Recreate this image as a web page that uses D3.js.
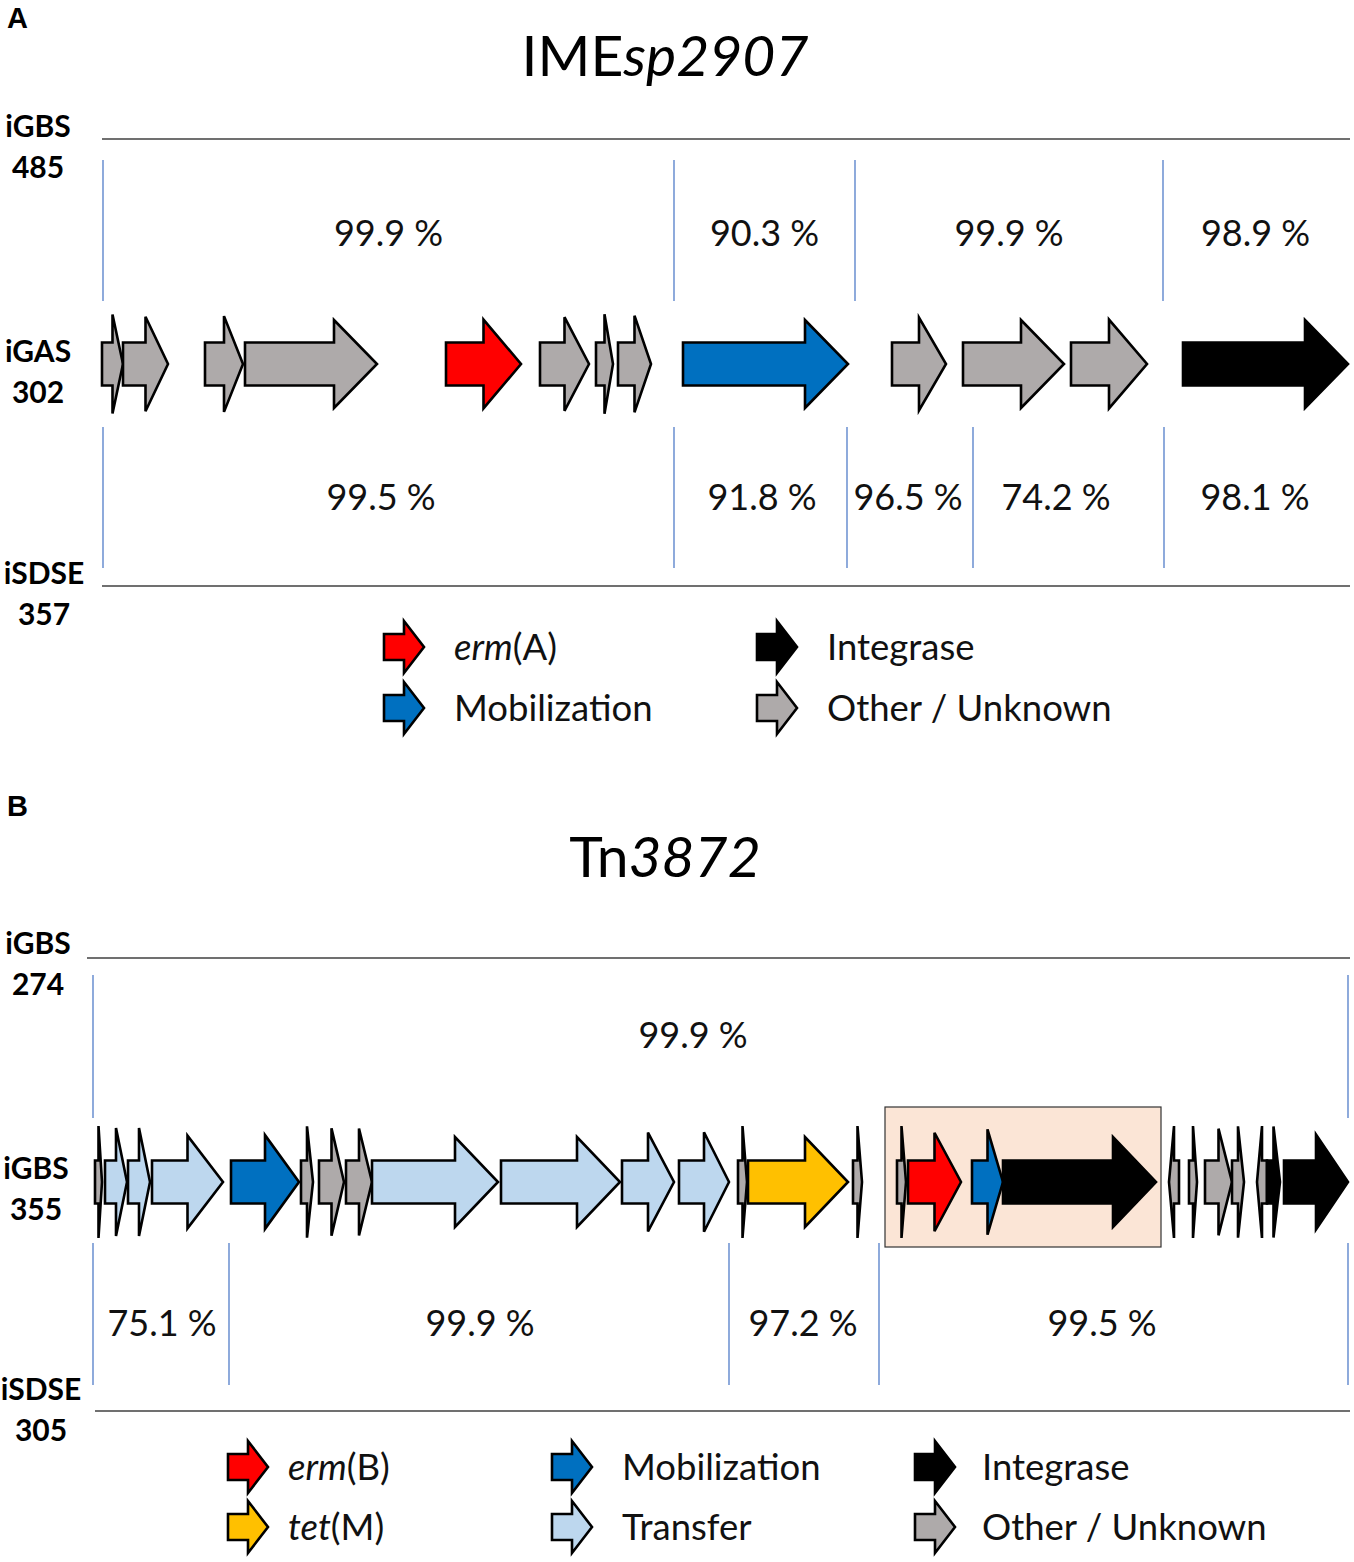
<!DOCTYPE html>
<html>
<head>
<meta charset="utf-8">
<script src="https://cdn.jsdelivr.net/npm/d3@7"></script>
<style>
  body { margin: 0; background: #fff; }
  svg text { font-family: Lato, "Open Sans", sans-serif; }
</style>
</head>
<body>
<svg id="chart" width="1354" height="1562"></svg>
<script>
// gene colours by category
var colors = {
  erm: "#ff0000", tet: "#ffc000", mob: "#0070c0", transfer: "#bdd7ee",
  int: "#000000", other: "#aeaaaa"
};

// panel A : IMEsp2907, positions in bp
var genesA = [
  [0, 210, 1, "other"], [210, 660, 1, "other"], [1030, 1410, 1, "other"],
  [1430, 2750, 1, "other"], [3440, 4190, 1, "erm"], [4380, 4870, 1, "other"],
  [4940, 5110, 1, "other"], [5160, 5490, 1, "other"], [5810, 7460, 1, "mob"],
  [7900, 8440, 1, "other"], [8610, 9620, 1, "other"], [9690, 10450, 1, "other"],
  [10810, 12460, 1, "int"]
];
var upperBoundsA = [10, 5720, 7530, 10610, 12460];
var upperIdentA = [99.9, 90.3, 99.9, 98.9];
var lowerBoundsA = [10, 5720, 7450, 8710, 10620, 12460];
var lowerIdentA = [99.5, 91.8, 96.5, 74.2, 98.1];
var lowerLabelAtA = [2790, 6600, 8060, 9540, 11530];

// panel B : Tn3872
var genesB = [
  [0, 70, 1, "other"], [100, 320, 1, "transfer"], [330, 550, 1, "transfer"],
  [570, 1280, 1, "transfer"], [1360, 2040, 1, "mob"], [2060, 2180, 1, "other"],
  [2240, 2490, 1, "other"], [2510, 2770, 1, "other"], [2770, 4030, 1, "transfer"],
  [4060, 5250, 1, "transfer"], [5270, 5790, 1, "transfer"], [5840, 6340, 1, "transfer"],
  [6430, 6520, 1, "other"], [6530, 7530, 1, "tet"], [7580, 7670, 1, "other"],
  [8020, 8110, 1, "other"], [8130, 8660, 1, "erm"], [8770, 9080, 1, "mob"],
  [9080, 10610, 1, "int"], [10740, 10840, -1, "other"], [10940, 11020, 1, "other"],
  [11100, 11370, 1, "other"], [11370, 11490, 1, "other"], [11620, 11720, -1, "other"],
  [11720, 11850, 1, "int"], [11890, 12530, 1, "int"]
];
var boxB = [7900, 10660];
var upperBoundsB = [-20, 12530];
var upperIdentB = [99.9];
var upperLabelAtB = [5980];
var lowerBoundsB = [-20, 1340, 6340, 7840, 12530];
var lowerIdentB = [75.1, 99.9, 97.2, 99.5];
var lowerLabelAtB = [670, 3850, 7080, 10070];

var legendA = [
  ["erm", "erm", "(A)"], ["int", "", "Integrase"],
  ["mob", "", "Mobilization"], ["other", "", "Other / Unknown"]
];
var legendB = [
  ["erm", "erm", "(B)"], ["mob", "", "Mobilization"], ["int", "", "Integrase"],
  ["tet", "tet", "(M)"], ["transfer", "", "Transfer"], ["other", "", "Other / Unknown"]
];

var svg = d3.select("#chart");

function arrowPath(x0, x1, dir, cy, bh, hh) {
  var len = Math.abs(x1 - x0);
  var head = Math.min(len / 2, 43);
  var p;
  if (dir > 0) {
    var hs = x1 - head;
    p = [[x0, cy - bh], [hs, cy - bh], [hs, cy - hh], [x1, cy], [hs, cy + hh], [hs, cy + bh], [x0, cy + bh]];
  } else {
    var he = x0 + head;
    p = [[x1, cy - bh], [he, cy - bh], [he, cy - hh], [x0, cy], [he, cy + hh], [he, cy + bh], [x1, cy + bh]];
  }
  return "M" + p.join("L") + "Z";
}

function drawPanel(o) {
  var g = svg.append("g");
  var x = d3.scaleLinear().domain(o.domain).range(o.range);
  var hh = d3.scaleLinear().domain(o.hhLen).range(o.hhRange).clamp(true);

  g.append("text").attr("x", 7).attr("y", o.letterY)
    .style("font-family", "'Liberation Sans', Arial, sans-serif").style("font-weight", "bold")
    .style("font-size", "29px").text(o.letter);

  var t = g.append("text").attr("x", 665).attr("y", o.titleY)
    .attr("text-anchor", "middle").style("font-size", "57px");
  t.append("tspan").text(o.title[0]);
  t.append("tspan").style("font-style", "italic").text(o.title[1]);

  // strain labels
  o.strains.forEach(function (s) {
    var lt = g.append("text").attr("text-anchor", "middle")
      .style("font-weight", "bold").style("font-size", "30px");
    lt.append("tspan").attr("x", s[2]).attr("y", s[3]).text(s[0]);
    lt.append("tspan").attr("x", s[2]).attr("y", s[3] + 41).text(s[1]);
  });

  // reference lines
  o.hlines.forEach(function (h) {
    g.append("line").attr("x1", h[0]).attr("x2", 1350).attr("y1", h[1]).attr("y2", h[1])
      .attr("stroke", "#404040").attr("stroke-width", 1.5);
  });

  // identity blocks
  function blocks(bounds, vals, y0, y1, ly, lastLine, labelAt) {
    var lines = lastLine ? bounds : bounds.slice(0, -1);
    g.selectAll(null).data(lines).enter().append("line")
      .attr("x1", function (d) { return x(d); }).attr("x2", function (d) { return x(d); })
      .attr("y1", y0).attr("y2", y1)
      .attr("stroke", "#4472c4").attr("stroke-width", 1.2);
    g.selectAll(null).data(vals).enter().append("text")
      .attr("x", function (d, i) {
        return labelAt ? x(labelAt[i]) : (x(bounds[i]) + x(bounds[i + 1])) / 2;
      })
      .attr("y", ly).attr("text-anchor", "middle")
      .style("font-size", "36px").attr("fill", "#111")
      .text(function (d) { return d.toFixed(1) + " %"; });
  }
  blocks(o.upper[0], o.upper[1], o.upperY[0], o.upperY[1], o.upperY[2], o.upperLast, o.upperLabelAt);
  blocks(o.lower[0], o.lower[1], o.lowerY[0], o.lowerY[1], o.lowerY[2], o.lowerLast, o.lowerLabelAt);

  if (o.box) {
    g.append("rect").attr("x", x(o.box[0])).attr("width", x(o.box[1]) - x(o.box[0]))
      .attr("y", o.cy - 75).attr("height", 140)
      .attr("fill", "#fbe5d6").attr("stroke", "#333").attr("stroke-width", 1.2);
  }

  g.selectAll(null).data(o.genes).enter().append("path")
    .attr("d", function (d) {
      var x0 = x(d[0]), x1 = x(d[1]);
      return arrowPath(x0, x1, d[2], o.cy, 21.5, hh(x1 - x0));
    })
    .attr("fill", function (d) { return colors[d[3]]; })
    .attr("stroke", "#000").attr("stroke-width", 2.6).attr("stroke-linejoin", "miter");

  // legend
  o.legend.forEach(function (d, i) {
    var col = i % o.legendCols, row = Math.floor(i / o.legendCols);
    var lx = o.legendX[col], ly = o.legendY[row];
    g.append("path").attr("d", arrowPath(lx, lx + 40, 1, ly, 13, 26))
      .attr("fill", colors[d[0]]).attr("stroke", "#000").attr("stroke-width", 2.6);
    var lt = g.append("text").attr("x", lx + o.legendGap[col]).attr("y", ly + 13)
      .style("font-size", "36.5px").attr("fill", "#111");
    if (d[1]) lt.append("tspan").style("font-style", "italic").text(d[1]);
    lt.append("tspan").text(d[2]);
  });
}

drawPanel({
  letter: "A", letterY: 28, title: ["IME", "sp2907"], titleY: 76,
  domain: [0, 12460], range: [102, 1348], cy: 364,
  hhLen: [15, 80], hhRange: [50, 44],
  strains: [["iGBS", "485", 38, 137], ["iGAS", "302", 38, 362], ["iSDSE", "357", 44, 584]],
  hlines: [[102, 139], [102, 586]],
  genes: genesA,
  upper: [upperBoundsA, upperIdentA], upperY: [160, 301, 246], upperLast: false,
  lower: [lowerBoundsA, lowerIdentA], lowerY: [427, 568, 510], lowerLast: false,
  lowerLabelAt: lowerLabelAtA,
  legend: legendA, legendCols: 2, legendX: [384, 757], legendY: [647, 708], legendGap: [70, 70]
});

drawPanel({
  letter: "B", letterY: 816, title: ["Tn", "3872"], titleY: 877,
  domain: [0, 12530], range: [95, 1348], cy: 1182,
  hhLen: [10, 80], hhRange: [56, 45],
  strains: [["iGBS", "274", 38, 954], ["iGBS", "355", 36, 1179], ["iSDSE", "305", 41, 1400]],
  hlines: [[87, 958], [95, 1411]],
  genes: genesB, box: boxB,
  upper: [upperBoundsB, upperIdentB], upperY: [975, 1118, 1048], upperLast: true,
  upperLabelAt: upperLabelAtB,
  lower: [lowerBoundsB, lowerIdentB], lowerY: [1243, 1385, 1336], lowerLast: true,
  lowerLabelAt: lowerLabelAtB,
  legend: legendB, legendCols: 3, legendX: [228, 552, 915], legendY: [1467, 1527], legendGap: [60, 70, 67]
});
</script>
</body>
</html>
